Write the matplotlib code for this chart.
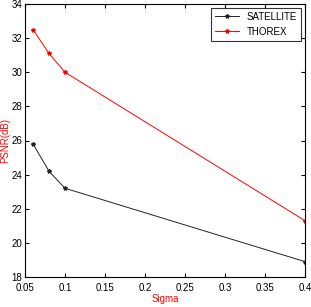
import matplotlib
matplotlib.use("Agg")
import matplotlib.pyplot as plt

sigma = [0.06, 0.08, 0.1, 0.4]
satellite = [25.8, 24.2, 23.2, 18.9]
thorex = [32.5, 31.1, 30.0, 21.3]

plt.rcParams['font.family'] = ['Liberation Sans', 'DejaVu Sans']

fig = plt.figure(figsize=(3.11, 3.07), dpi=100)
ax = fig.add_axes([25 / 311, 30 / 307, 280 / 311, 273 / 307])

ax.plot(sigma, satellite, color='#222222', lw=0.7, marker='*', ms=3, label='SATELLITE')
ax.plot(sigma, thorex, color='red', lw=0.7, marker='*', ms=3, label='THOREX')

ax.set_xlim(0.05, 0.4)
ax.set_ylim(18, 34)
ax.set_xticks([0.05, 0.1, 0.15, 0.2, 0.25, 0.3, 0.35, 0.4])
ax.set_xticklabels(['0.05', '0.1', '0.15', '0.2', '0.25', '0.3', '0.35', '0.4'])
ax.set_yticks(range(18, 35, 2))
ax.tick_params(direction='in', top=True, right=True, labelsize=7, length=3, pad=2)
ax.tick_params(axis='x', pad=4)

ax.set_xlabel('Sigma', color='red', fontsize=7, labelpad=1)
ax.set_ylabel('PSNR(dB)', color='red', fontsize=7, labelpad=1)

leg = ax.legend(loc='upper right', fontsize=7, frameon=True, fancybox=False,
                edgecolor='black', handlelength=2.5, borderaxespad=0.4)
leg.get_frame().set_linewidth(0.8)

plt.savefig('out.png', dpi=100)
